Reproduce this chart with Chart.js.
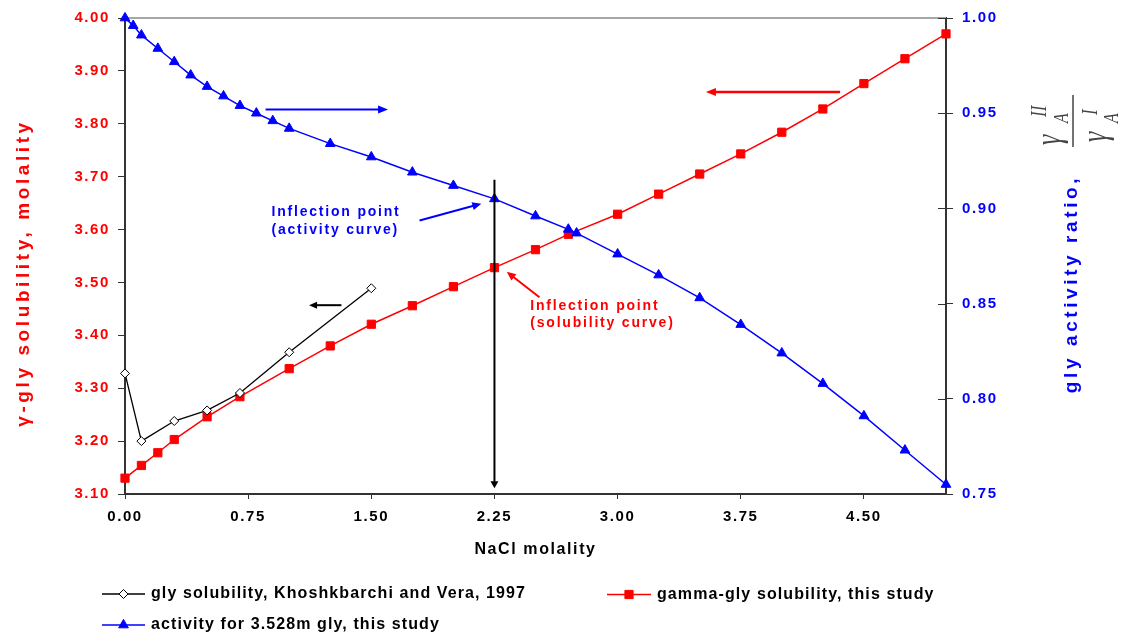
<!DOCTYPE html>
<html>
<head>
<meta charset="utf-8">
<script src="https://cdn.jsdelivr.net/npm/chart.js@4.4.1/dist/chart.umd.min.js"></script>
<style>
  html, body { margin: 0; padding: 0; background: #ffffff; }
  #c { display: block; }
</style>
</head>
<body>
<canvas id="c" width="1126" height="636"></canvas>
<script>
// ---------------- DATA ----------------
// Khoshkbarchi and Vera, 1997 (left axis)
const litX = [0, 0.1, 0.3, 0.5, 0.7, 1.0, 1.5];
const litY = [3.328, 3.200, 3.238, 3.258, 3.291, 3.368, 3.489];

// gamma-gly solubility, this study (left axis)
const solX = [0, 0.1, 0.2, 0.3, 0.5, 0.7, 1.0, 1.25, 1.5, 1.75, 2.0, 2.25, 2.5, 2.7, 3.0, 3.25, 3.5, 3.75, 4.0, 4.25, 4.5, 4.75, 5.0];
const solY = [3.130, 3.154, 3.178, 3.203, 3.246, 3.284, 3.337, 3.380, 3.421, 3.456, 3.492, 3.528, 3.562, 3.591, 3.629, 3.667, 3.705, 3.743, 3.784, 3.828, 3.876, 3.923, 3.970];

// activity ratio for 3.528m gly (right axis)
const actX = [0, 0.05, 0.1, 0.2, 0.3, 0.4, 0.5, 0.6, 0.7, 0.8, 0.9, 1.0, 1.25, 1.5, 1.75, 2.0, 2.25, 2.5, 2.7, 2.75, 3.0, 3.25, 3.5, 3.75, 4.0, 4.25, 4.5, 4.75, 5.0];
const actY = [1.000, 0.996, 0.991, 0.984, 0.977, 0.970, 0.964, 0.959, 0.954, 0.950, 0.946, 0.942, 0.934, 0.927, 0.919, 0.912, 0.905, 0.896, 0.889, 0.887, 0.876, 0.865, 0.853, 0.839, 0.824, 0.808, 0.791, 0.773, 0.755];

// tick values / labels
const xTickValues = [0, 0.75, 1.5, 2.25, 3.0, 3.75, 4.5];
const xTickLabels = ['0.00', '0.75', '1.50', '2.25', '3.00', '3.75', '4.50'];
const yLTickValues = [3.1, 3.2, 3.3, 3.4, 3.5, 3.6, 3.7, 3.8, 3.9, 4.0];
const yLTickLabels = ['3.10', '3.20', '3.30', '3.40', '3.50', '3.60', '3.70', '3.80', '3.90', '4.00'];
const yRTickValues = [0.75, 0.80, 0.85, 0.90, 0.95, 1.00];
const yRTickLabels = ['0.75', '0.80', '0.85', '0.90', '0.95', '1.00'];

const seriesLabels = [
  'gly solubility, Khoshkbarchi and Vera, 1997',
  'gamma-gly solubility, this study',
  'activity for 3.528m gly, this study'
];

// annotations (in data units: x = NaCl molality, y = left axis)
const annArrows = [
  { from: [0.856, 3.827], to: [1.602, 3.827], color: '#0000ff', w: 2,   head: 10, hw: 4 },
  { from: [4.355, 3.860], to: [3.538, 3.860], color: '#ff0000', w: 2.5, head: 10, hw: 4 },
  { from: [1.318, 3.457], to: [1.121, 3.457], color: '#000000', w: 2,   head: 8,  hw: 3.5 },
  { from: [2.25, 3.694],  to: [2.25, 3.111],  color: '#000000', w: 2,   head: 7,  hw: 4 },
  { from: [1.794, 3.617], to: [2.170, 3.649], color: '#0000ff', w: 2,   head: 9,  hw: 4 },
  { from: [2.524, 3.472], to: [2.325, 3.520], color: '#ff0000', w: 2,   head: 9,  hw: 4 }
];
const annTexts = [
  { x: 0.892, y: 3.632, text: 'Inflection point', color: '#0000ff' },
  { x: 0.892, y: 3.599, text: '(activity curve)', color: '#0000ff' },
  { x: 2.468, y: 3.456, text: 'Inflection point', color: '#ff0000' },
  { x: 2.468, y: 3.423, text: '(solubility curve)', color: '#ff0000' }
];

// ---------------- HELPERS ----------------
const FAM = '"Liberation Sans", Arial, Helvetica, sans-serif';
function pts(xs, ys) { return xs.map((x, i) => ({ x: x, y: ys[i] })); }

function marker(ctx, style, x, y, r, fill, stroke) {
  ctx.beginPath();
  if (style === 'rectRot') {
    ctx.moveTo(x - r, y); ctx.lineTo(x, y - r); ctx.lineTo(x + r, y); ctx.lineTo(x, y + r); ctx.closePath();
  } else if (style === 'rect') {
    const s = r * Math.SQRT1_2;
    ctx.rect(x - s, y - s, 2 * s, 2 * s);
  } else {
    ctx.moveTo(x, y - r);
    ctx.lineTo(x + r * 0.866, y + r * 0.5);
    ctx.lineTo(x - r * 0.866, y + r * 0.5);
    ctx.closePath();
  }
  ctx.fillStyle = fill; ctx.fill();
  ctx.strokeStyle = stroke; ctx.lineWidth = 1; ctx.stroke();
}

function arrow(ctx, x1, y1, x2, y2, color, w, head, hw) {
  const ang = Math.atan2(y2 - y1, x2 - x1);
  const bx = x2 - Math.cos(ang) * head, by = y2 - Math.sin(ang) * head;
  ctx.save();
  ctx.strokeStyle = color; ctx.fillStyle = color; ctx.lineWidth = w; ctx.lineCap = 'butt';
  ctx.beginPath(); ctx.moveTo(x1, y1); ctx.lineTo(bx + Math.cos(ang) * 1, by + Math.sin(ang) * 1); ctx.stroke();
  ctx.beginPath();
  ctx.moveTo(x2, y2);
  ctx.lineTo(bx + Math.sin(ang) * hw, by - Math.cos(ang) * hw);
  ctx.lineTo(bx - Math.sin(ang) * hw, by + Math.cos(ang) * hw);
  ctx.closePath(); ctx.fill();
  ctx.restore();
}

// ---------------- PLUGIN ----------------
const decor = {
  id: 'decor',
  beforeDraw(chart) {
    chart.ctx.letterSpacing = '1.6px';
  },
  beforeDatasetsDraw(chart) {
    const ctx = chart.ctx, a = chart.chartArea;
    ctx.save();
    // top gray frame line
    ctx.strokeStyle = '#a6a6a6'; ctx.lineWidth = 2;
    ctx.beginPath(); ctx.moveTo(a.left, a.top); ctx.lineTo(a.right, a.top); ctx.stroke();
    // inner half of right axis ticks
    const yR = chart.scales.yR;
    ctx.strokeStyle = '#333333'; ctx.lineWidth = 1;
    yRTickValues.forEach(v => {
      const py = Math.round(yR.getPixelForValue(v)) + 0.5;
      ctx.beginPath(); ctx.moveTo(a.right - 8, py); ctx.lineTo(a.right, py); ctx.stroke();
    });
    ctx.restore();
  },
  afterDatasetsDraw(chart) {
    const ctx = chart.ctx;
    const xs = chart.scales.x, yL = chart.scales.yL;
    annArrows.forEach(o => {
      arrow(ctx, xs.getPixelForValue(o.from[0]), yL.getPixelForValue(o.from[1]),
                 xs.getPixelForValue(o.to[0]), yL.getPixelForValue(o.to[1]),
                 o.color, o.w, o.head, o.hw);
    });
    ctx.save();
    ctx.letterSpacing = '1.8px';
    ctx.font = 'bold 14px ' + FAM;
    ctx.textAlign = 'left'; ctx.textBaseline = 'middle';
    annTexts.forEach(t => {
      ctx.fillStyle = t.color;
      ctx.fillText(t.text, xs.getPixelForValue(t.x), yL.getPixelForValue(t.y));
    });
    ctx.restore();
  },
  afterDraw(chart) {
    const ctx = chart.ctx;
    ctx.save();
    // left axis title
    ctx.letterSpacing = '3.6px';
    ctx.font = 'bold 19px ' + FAM;
    ctx.textAlign = 'center'; ctx.textBaseline = 'alphabetic';
    ctx.save();
    ctx.translate(29, 273); ctx.rotate(-Math.PI / 2);
    ctx.fillStyle = '#ff0000';
    ctx.fillText('\u03B3-gly solubility, molality', 0, 0);
    ctx.restore();
    // right axis title
    ctx.save();
    ctx.translate(1077, 284); ctx.rotate(-Math.PI / 2);
    ctx.fillStyle = '#0000ff';
    ctx.fillText('gly activity ratio,', 0, 0);
    ctx.restore();

    // fraction gamma_A^II / gamma_A^I
    ctx.save();
    ctx.letterSpacing = '0px';
    ctx.translate(1073, 121); ctx.rotate(-Math.PI / 2);
    ctx.strokeStyle = '#444444'; ctx.lineWidth = 1.5;
    ctx.beginPath(); ctx.moveTo(-26, 0); ctx.lineTo(26, 0); ctx.stroke();
    ctx.scale(1, 1.35);
    ctx.fillStyle = '#444444'; ctx.textAlign = 'left'; ctx.textBaseline = 'alphabetic';
    ctx.font = 'italic 26px "Liberation Serif", "DejaVu Serif", serif';
    ctx.fillText('\u03B3', -24, -9.5);
    ctx.fillText('\u03B3', -21, 24.5);
    ctx.font = 'italic 16px "Liberation Serif", "DejaVu Serif", serif';
    ctx.fillText('A', -2, -3.5);
    ctx.fillText('A', -2, 33);
    ctx.font = 'italic 17px "Liberation Serif", "DejaVu Serif", serif';
    ctx.fillText('II', 4, -20);
    ctx.fillText('I', 6, 17.5);
    ctx.restore();

    // legend
    const ds = chart.data.datasets;
    const items = [
      { i: 0, x: 102, y: 594, w: 43 },
      { i: 1, x: 607, y: 594.5, w: 44 },
      { i: 2, x: 102, y: 625, w: 43 }
    ];
    items.forEach(it => {
      const d = ds[it.i];
      ctx.strokeStyle = d.borderColor; ctx.lineWidth = 1.5;
      ctx.beginPath(); ctx.moveTo(it.x, it.y); ctx.lineTo(it.x + it.w, it.y); ctx.stroke();
      marker(ctx, d.pointStyle, it.x + it.w / 2, it.y, d.pointRadius, d.pointBackgroundColor, d.pointBorderColor);
      ctx.letterSpacing = '1.1px';
      ctx.font = 'bold 16px ' + FAM;
      ctx.fillStyle = '#000000'; ctx.textAlign = 'left'; ctx.textBaseline = 'middle';
      ctx.fillText(seriesLabels[it.i], it.x + it.w + 6, it.y);
    });
    ctx.restore();
  }
};

// ---------------- CHART ----------------
const tickFont = { family: FAM, size: 15, weight: 'bold' };

new Chart(document.getElementById('c').getContext('2d'), {
  type: 'scatter',
  data: {
    datasets: [
      {
        label: seriesLabels[0], data: pts(litX, litY), yAxisID: 'yL', showLine: true,
        borderColor: '#000000', borderWidth: 1.3,
        pointStyle: 'rectRot', pointRadius: 4.5, pointBackgroundColor: '#ffffff',
        pointBorderColor: '#000000', pointBorderWidth: 1, clip: false, order: 1
      },
      {
        label: seriesLabels[1], data: pts(solX, solY), yAxisID: 'yL', showLine: true,
        borderColor: '#ff0000', borderWidth: 1.5,
        pointStyle: 'rect', pointRadius: 5.8, pointBackgroundColor: '#ff0000',
        pointBorderColor: '#ff0000', pointBorderWidth: 1, clip: false, order: 3
      },
      {
        label: seriesLabels[2], data: pts(actX, actY), yAxisID: 'yR', showLine: true,
        borderColor: '#0000ff', borderWidth: 1.5,
        pointStyle: 'triangle', pointRadius: 5.6, pointBackgroundColor: '#0000ff',
        pointBorderColor: '#0000ff', pointBorderWidth: 1, clip: false, order: 2
      }
    ]
  },
  options: {
    responsive: false,
    animation: false,
    devicePixelRatio: 1,
    layout: { padding: { top: 15, left: 0, right: 0, bottom: 0 } },
    plugins: { legend: { display: false }, tooltip: { enabled: false } },
    elements: { line: { tension: 0 } },
    scales: {
      x: {
        type: 'linear', position: 'bottom', min: 0, max: 5,
        afterBuildTicks: s => { s.ticks = xTickValues.map(v => ({ value: v })); },
        afterFit: s => { s.height = 142; },
        ticks: {
          callback: (v, i) => xTickLabels[i], color: '#000000', font: tickFont,
          padding: 9, maxRotation: 0, autoSkip: false
        },
        grid: { drawOnChartArea: false, drawTicks: true, tickLength: 5, color: '#333333', lineWidth: 1 },
        border: { display: true, color: '#333333', width: 2 },
        title: {
          display: true, text: 'NaCl molality', color: '#000000',
          font: { family: FAM, size: 16, weight: 'bold' }, padding: { top: 0, bottom: 77 }
        }
      },
      yL: {
        type: 'linear', position: 'left', min: 3.1, max: 4.0,
        afterBuildTicks: s => { s.ticks = yLTickValues.map(v => ({ value: v })); },
        afterFit: s => { s.width = 125; },
        ticks: { callback: (v, i) => yLTickLabels[i], color: '#ff0000', font: tickFont, padding: 8, autoSkip: false },
        grid: { drawOnChartArea: false, drawTicks: true, tickLength: 7, color: '#333333', lineWidth: 1 },
        border: { display: true, color: '#333333', width: 2 }
      },
      yR: {
        type: 'linear', position: 'right', min: 0.75, max: 1.0,
        afterBuildTicks: s => { s.ticks = yRTickValues.map(v => ({ value: v })); },
        afterFit: s => { s.width = 180; },
        ticks: { callback: (v, i) => yRTickLabels[i], color: '#0000ff', font: tickFont, padding: 9, autoSkip: false },
        grid: { drawOnChartArea: false, drawTicks: true, tickLength: 7, color: '#333333', lineWidth: 1 },
        border: { display: true, color: '#333333', width: 2 }
      }
    }
  },
  plugins: [decor]
});
</script>
</body>
</html>
